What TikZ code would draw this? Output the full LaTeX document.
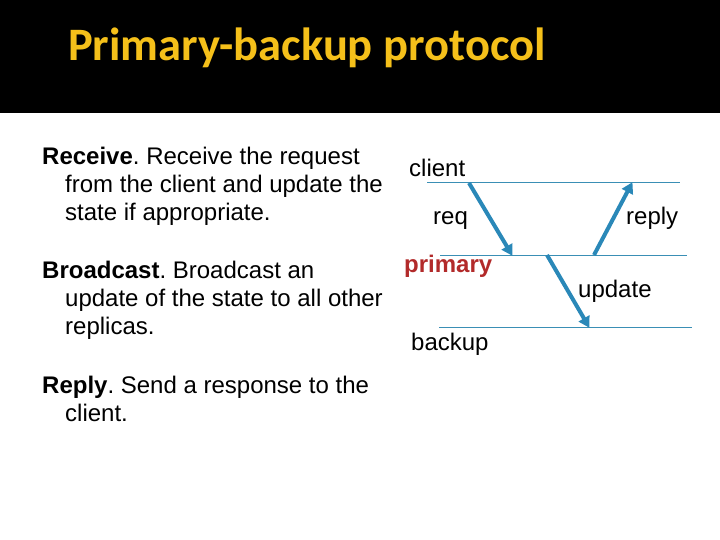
\documentclass[tikz,border=0pt]{standalone}
\usepackage{fontspec}
\setmainfont{Liberation Sans}
\newfontfamily\titlefont{Carlito}
\usetikzlibrary{arrows.meta}
\definecolor{titleyellow}{HTML}{F5C01A}
\definecolor{lineblue}{HTML}{3A8FB5}
\definecolor{arrowblue}{HTML}{2A88B8}
\definecolor{primred}{HTML}{B22A2A}
\frenchspacing
\tikzset{
  body/.style={anchor=base west, inner sep=0pt, font=\fontsize{24}{28}\selectfont},
  lbl/.style={anchor=base west, inner sep=0pt, font=\fontsize{24}{28}\selectfont},
  tline/.style={draw=lineblue, line width=1pt},
  msg/.style={draw=arrowblue, line width=4pt, -{Triangle[length=11pt,width=12pt]}, shorten >=-1pt}
}
\begin{document}
\begin{tikzpicture}[x=1pt,y=-1pt]
\useasboundingbox (0,0) rectangle (720,540);
\fill[black] (0,0) rectangle (720,113);
\node[anchor=base west, inner sep=0pt, text=titleyellow, font=\titlefont\bfseries\fontsize{46.5}{50}\selectfont] (title) at (68,61) {Primary-backup protocol};
% body text
\node[body] (r1) at (42,165) {\textbf{Receive}. Receive the request};
\node[body] (r2) at (65,193) {from the client and update the};
\node[body] (r3) at (65,221) {state if appropriate.};
\node[body] (b1) at (42,278) {\textbf{Broadcast}. Broadcast an};
\node[body] (b2) at (65,306) {update of the state to all other};
\node[body] (b3) at (65,334) {replicas.};
\node[body] (p1) at (42,393) {\textbf{Reply}. Send a response to the};
\node[body] (p2) at (65,421) {client.};
% timelines
\coordinate (c0) at (427,183); \coordinate (c1) at (680,183);
\coordinate (m0) at (440,255); \coordinate (m1) at (687,255);
\coordinate (k0) at (439,327); \coordinate (k1) at (692,327);
\draw[tline] (c0) -- (c1);
\draw[tline] (m0) -- (m1);
\draw[tline] (k0) -- (k1);
% labels
\node[lbl] (client) at (409,177) {client};
\node[lbl] (req) at (433,225) {req};
\node[lbl] (reply) at (626,225) {reply};
\node[lbl, text=primred, font=\bfseries\fontsize{24}{28}\selectfont] (primary) at (404,272) {primary};
\node[lbl] (update) at (578,297) {update};
\node[lbl] (backup) at (411,350) {backup};
% messages
\coordinate (qa) at (469,183); \coordinate (qb) at (512,255);
\coordinate (ua) at (547,255); \coordinate (ub) at (589,327);
\coordinate (ya) at (594,255); \coordinate (yb) at (632,183);
\draw[msg] (qa) -- (qb);
\draw[msg] (ua) -- (ub);
\draw[msg] (ya) -- (yb);
\end{tikzpicture}
\end{document}
